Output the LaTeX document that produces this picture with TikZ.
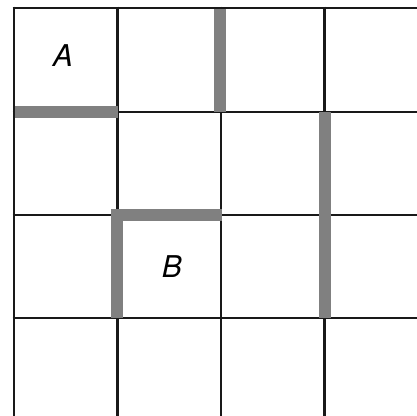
\documentclass[tikz,border=0pt]{standalone}
\usepackage{fontspec}
\setmainfont{TeX Gyre Heros}
\tikzset{
  gridline/.style={draw=black!90, line width=2.8pt},
  wall/.style={draw=black!50, line width=12pt, line cap=butt},
  lbl/.style={font=\fontsize{30}{30}\selectfont\itshape, inner sep=0pt}
}
\begin{document}
\begin{tikzpicture}[x=1pt,y=-1pt]
\useasboundingbox (0,0) rectangle (416,416);
\fill[white] (0,0) rectangle (416,416);
% grid
\foreach \x in {14,117.5,221,324.5} \draw[gridline] (\x,6.6) -- (\x,420);
\foreach \y in {8,112,215,318} \draw[gridline] (12.6,\y) -- (420,\y);
% walls
\draw[wall] (15.4,112) -- (117.5,112);
\draw[wall] (220,9.4) -- (220,112);
\draw[wall] (325,112) -- (325,318);
\draw[wall] (117,318) -- (117,215) -- (222,215);
\draw[wall] (111,215) -- (222,215);
% labels
\node[lbl] (A) at (63,56) {A};
\node[lbl] (B) at (172,267) {B};
\end{tikzpicture}
\end{document}
